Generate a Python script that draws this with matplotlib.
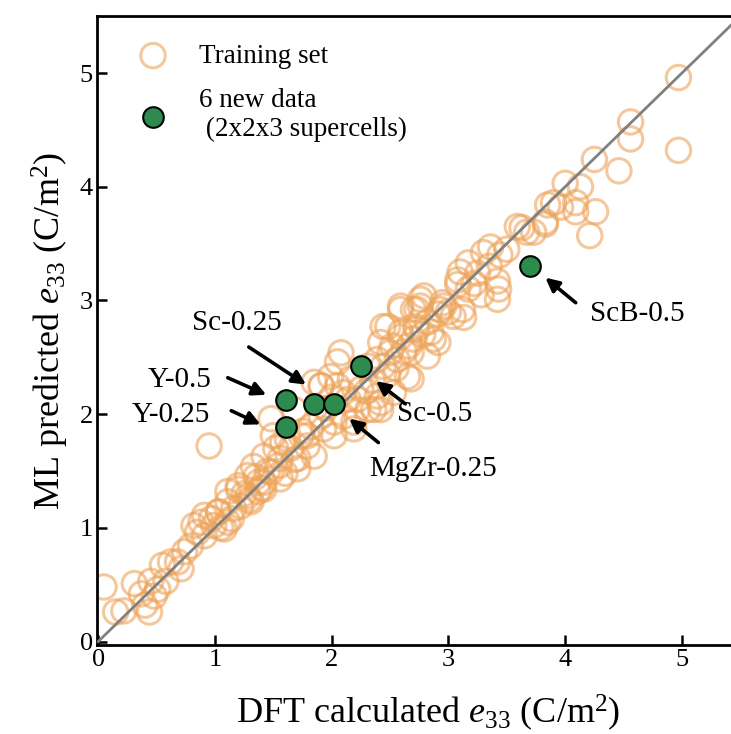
import matplotlib
matplotlib.use("Agg")
import matplotlib.pyplot as plt

plt.rcParams['font.family'] = ['Liberation Serif', 'DejaVu Serif']
plt.rcParams['mathtext.fontset'] = 'custom'
plt.rcParams['mathtext.rm'] = 'Liberation Serif'
plt.rcParams['mathtext.it'] = 'Liberation Serif:italic'

# Training set (DFT, ML)
train_dft = [4.97, 4.97, 4.56, 4.56, 4.25, 4.46, 4.00, 4.13, 3.90, 3.96, 4.09, 4.09, 4.26, 4.21,
             3.83, 3.73, 3.63, 3.85, 3.59, 3.67, 3.83, 3.36, 3.44, 3.30, 3.17, 3.10, 3.25, 3.42,
             3.43, 3.42, 3.17, 3.08, 3.12, 3.13, 2.96, 2.79, 2.91, 2.59, 2.73, 2.72, 2.82, 2.48,
             2.59, 2.87, 2.70, 2.59, 2.76, 2.93, 3.04, 2.44, 2.59, 2.73, 2.91, 2.42, 2.50, 2.68,
             2.82, 2.39, 2.56, 2.68, 2.08, 2.05, 2.16, 2.31, 2.44, 1.99, 2.10, 2.25, 2.39, 2.42,
             1.91, 1.85, 2.31, 2.22, 2.14, 2.10, 2.19, 2.02, 1.93, 1.82, 1.79, 2.02, 0.95, 1.48,
             1.50, 1.62, 1.74, 1.91, 1.79, 1.91, 2.05, 2.22, 2.36, 1.42, 1.56, 1.71, 1.85, 1.33,
             1.48, 1.71, 1.28, 1.37, 1.56, 1.20, 1.28, 1.42, 1.11, 1.22, 1.03, 1.14, 0.88, 0.99,
             2.19, 1.68, 0.05, 0.15, 0.22, 0.31, 0.37, 0.40, 0.44, 0.45, 0.51, 0.58, 0.55, 0.62,
             0.71, 0.74, 0.79, 0.85, 0.91, 0.82, 0.97, 0.91, 1.08, 1.03, 1.11, 1.16, 1.31, 1.11,
             1.20, 1.37, 1.42, 2.65, 2.42, 2.53, 3.08, 2.70, 2.76, 1.55, 1.65, 1.35, 1.45, 1.60,
             1.25, 1.52, 1.68, 1.40, 2.00, 2.30, 2.55, 2.62, 2.85, 3.00, 3.22, 3.28, 3.50, 2.35,
             2.48, 2.66, 1.95, 1.75, 1.58, 1.30, 1.05, 0.68, 0.48, 3.35, 2.95, 2.78, 2.52]
train_ml = [4.96, 4.32, 4.57, 4.42, 4.24, 4.14, 4.03, 4.00, 3.86, 3.82, 3.86, 3.78, 3.78, 3.57,
            3.69, 3.60, 3.64, 3.84, 3.65, 3.60, 3.67, 3.47, 3.40, 3.42, 3.33, 3.25, 3.24, 3.17,
            3.10, 3.01, 3.10, 3.14, 2.92, 2.85, 2.95, 3.04, 2.88, 2.92, 2.92, 2.77, 2.81, 2.77,
            2.68, 2.66, 2.66, 2.95, 2.95, 2.92, 2.86, 2.77, 2.72, 2.75, 2.63, 2.63, 2.54, 2.54,
            2.51, 2.48, 2.48, 2.31, 2.54, 2.46, 2.31, 2.42, 2.42, 2.33, 2.19, 2.22, 2.16, 2.04,
            2.25, 2.28, 2.04, 2.04, 2.13, 1.98, 1.87, 1.93, 1.87, 1.89, 1.81, 1.81, 1.72, 1.96,
            1.81, 1.78, 1.81, 1.98, 1.72, 2.25, 2.25, 2.13, 2.04, 1.63, 1.61, 1.61, 1.63, 1.54,
            1.49, 1.52, 1.46, 1.40, 1.43, 1.37, 1.28, 1.34, 1.23, 1.19, 1.14, 1.08, 1.05, 1.02,
            1.93, 2.04, 0.48, 0.26, 0.27, 0.51, 0.42, 0.32, 0.26, 0.53, 0.46, 0.53, 0.67, 0.70,
            0.64, 0.79, 0.84, 0.96, 0.93, 1.02, 1.08, 1.11, 0.99, 1.14, 1.05, 1.17, 1.23, 1.32,
            1.34, 1.32, 1.40, 2.33, 2.10, 2.19, 3.18, 2.92, 3.01, 1.55, 1.70, 1.45, 1.50, 1.48,
            1.30, 1.70, 1.60, 1.35, 2.15, 2.20, 2.40, 2.55, 2.72, 2.90, 3.15, 3.05, 3.45, 2.30,
            2.35, 2.60, 2.05, 1.85, 1.75, 1.25, 1.00, 0.70, 0.40, 3.30, 2.98, 2.70, 2.60]

# 6 new data points (2x2x3 supercells)
new_labels = ['Y-0.5', 'Y-0.25', 'Sc-0.25', 'MgZr-0.25', 'Sc-0.5', 'ScB-0.5']
new_dft = [1.61, 1.61, 1.85, 2.02, 2.25, 3.70]
new_ml = [2.12, 1.89, 2.09, 2.09, 2.42, 3.30]

fig = plt.figure(figsize=(7.31, 7.34), dpi=100)
ax = fig.add_axes([0.1327, 0.1213, 0.8673, 0.8567])

ax.scatter(train_dft, train_ml, s=310, facecolors='none', edgecolors='#eea45a',
           linewidths=2.2, alpha=0.6, zorder=2, label='Training set')
ax.plot([0, 5.6], [0, 5.6], color='#808080', lw=2, zorder=3)
ax.scatter(new_dft, new_ml, s=220, facecolors='#2e8b4e', edgecolors='black',
           linewidths=1.5, zorder=4, label='6 new data\n (2x2x3 supercells)')

# labels and arrows: (text centre, arrow tail, arrow tip)
notes = {
    'Y-0.5': ((0.70, 2.30), (1.11, 2.32), (1.44, 2.17)),
    'Y-0.25': ((0.62, 1.99), (1.14, 2.03), (1.39, 1.91)),
    'Sc-0.25': ((1.19, 2.80), (1.29, 2.59), (1.78, 2.26)),
    'Sc-0.5': ((2.88, 2.00), (2.63, 2.09), (2.38, 2.29)),
    'MgZr-0.25': ((2.87, 1.52), (2.40, 1.75), (2.15, 1.96)),
    'ScB-0.5': ((4.62, 2.88), (4.09, 2.98), (3.83, 3.20)),
}
for name in new_labels:
    txt, tail, tip = notes[name]
    ax.text(txt[0], txt[1], name, fontsize=21, ha='center', va='center')
    ax.annotate('', xy=tip, xytext=tail,
                arrowprops=dict(arrowstyle='-|>', color='black', lw=2.6,
                                mutation_scale=20, shrinkA=0, shrinkB=0))

ax.set_xlim(-0.01, 5.42)
ax.set_ylim(-0.03, 5.5)
ax.set_xticks([0, 1, 2, 3, 4, 5])
ax.set_yticks([0, 1, 2, 3, 4, 5])
ax.tick_params(direction='in', length=7, width=1.8, labelsize=19, pad=3)
for side in ['left', 'bottom', 'top']:
    ax.spines[side].set_linewidth(2)
ax.spines['right'].set_visible(False)

ax.set_xlabel('DFT calculated $e_{33}$ (C/m$^2$)', fontsize=26, labelpad=8)
ax.xaxis.set_label_coords(0.522, -0.075)
ax.set_ylabel('ML predicted $e_{33}$ (C/m$^2$)', fontsize=26, labelpad=6)

ax.legend(loc='upper left', bbox_to_anchor=(0.02, 0.982), frameon=False,
          fontsize=19.5, handletextpad=0.7, labelspacing=0.7, borderaxespad=0.2)

fig.savefig('out.png', dpi=100)
